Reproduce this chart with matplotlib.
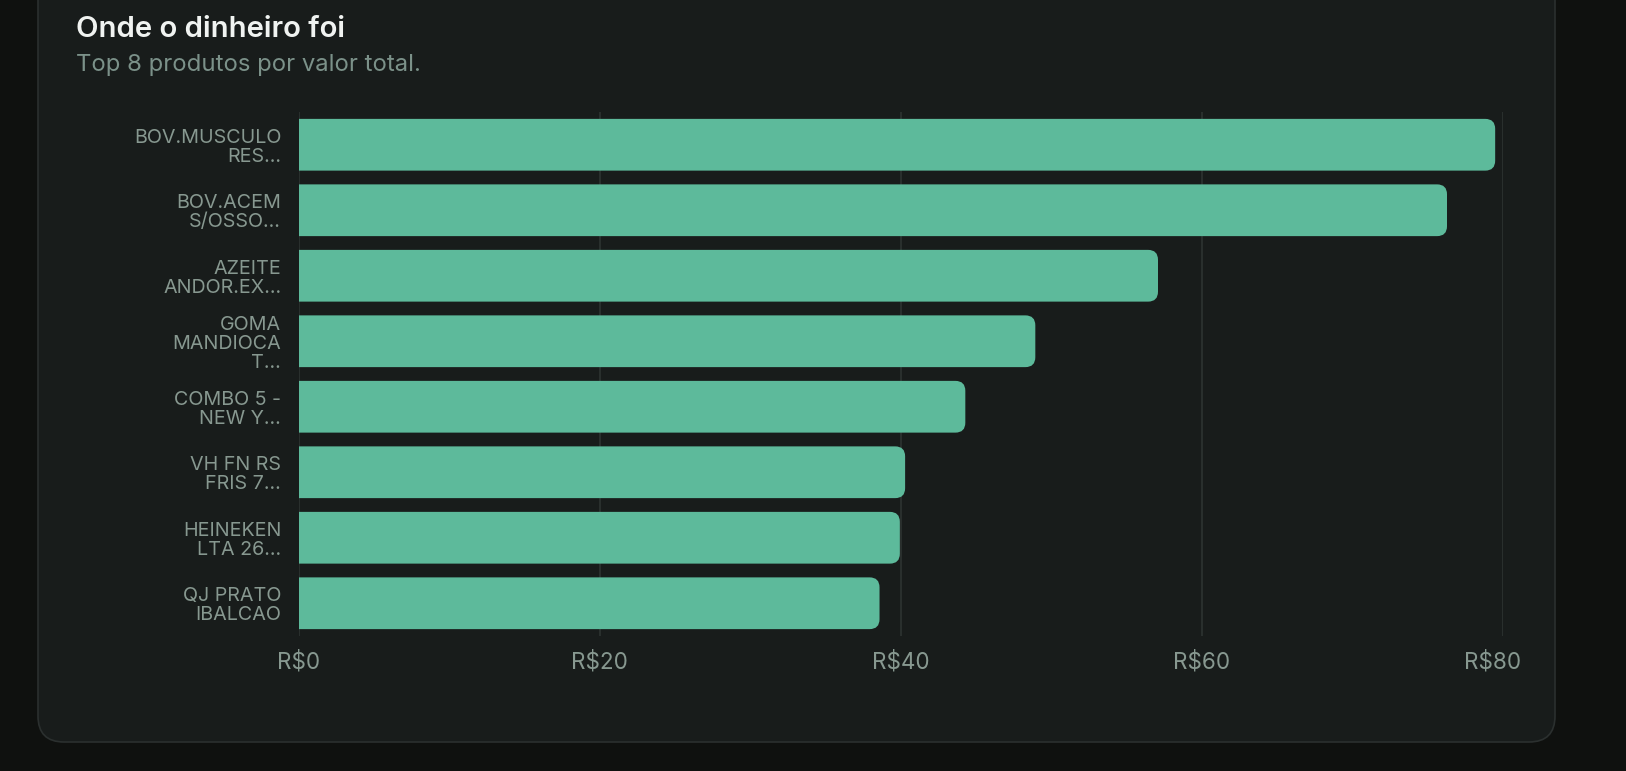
import matplotlib
matplotlib.use("Agg")
from matplotlib import pyplot as plt
from matplotlib.patches import FancyBboxPatch
from matplotlib.ticker import FuncFormatter
from matplotlib.transforms import ScaledTranslation

# data
produtos = [
    "BOV.MUSCULO\nRES…",
    "BOV.ACEM\nS/OSSO…",
    "AZEITE\nANDOR.EX…",
    "GOMA\nMANDIOCA\nT…",
    "COMBO 5 -\nNEW Y…",
    "VH FN RS\nFRIS 7…",
    "HEINEKEN\nLTA 26…",
    "QJ PRATO\nIBALCAO",
]
valores = [79.5, 76.3, 57.1, 48.95, 44.3, 40.3, 39.95, 38.6]
x_ticks = [0, 20, 40, 60, 80]

BG = '#0f110f'
CARD = '#181c1b'
CARD_EDGE = '#2b302f'
BAR = '#5dba9b'
GRID = '#2f3533'
TITLE = '#f0f3f1'
SUB = '#7b9189'
TICK = '#879890'

plt.rcParams['font.family'] = ['Inter', 'DejaVu Sans']

fig = plt.figure(figsize=(16.26, 7.71), dpi=100, facecolor=BG)
W, H = 1626, 771

# card
card = FancyBboxPatch((38 / W, 29 / H), (1555 - 38) / W, 1.2,
                      boxstyle='round,pad=0,rounding_size=0.016',
                      mutation_aspect=W / H,
                      transform=fig.transFigure, facecolor=CARD,
                      edgecolor=CARD_EDGE, linewidth=1.2, zorder=-5)
fig.patches.append(card)

fig.text(76 / W, 1 - 37.3 / H, 'Onde o dinheiro foi', color=TITLE,
         fontsize=21.1, fontweight='semibold', va='baseline', ha='left')
fig.text(76 / W, 1 - 70.5 / H, 'Top 8 produtos por valor total.', color=SUB,
         fontsize=17.2, va='baseline', ha='left')

ax = fig.add_axes([298.5 / W, 135 / H, (1502.7 - 298.5) / W, (636 - 112) / H])
ax.set_facecolor('none')
ax.set_zorder(2)

pos = list(range(len(produtos)))
bars = ax.barh(pos, valores, height=0.79, color=BAR, zorder=3)
ax.set_xlim(0, 80)
ax.set_ylim(len(produtos) - 0.5, -0.5)

# rounded right ends: replace each bar by a rounded patch starting left of 0
r = 0.66
aspect = (1 / 65.5) / (1 / 15.05)
for b in bars:
    x0, y0 = b.get_x(), b.get_y()
    w, h = b.get_width(), b.get_height()
    p = FancyBboxPatch((x0 - 2, y0), w + 2, h,
                       boxstyle=f'round,pad=0,rounding_size={r}',
                       mutation_aspect=aspect, facecolor=BAR,
                       edgecolor='none', zorder=3)
    ax.add_patch(p)
    b.set_visible(False)

ax.set_xticks(x_ticks)
ax.xaxis.set_major_formatter(FuncFormatter(lambda v, _: f'R${v:.0f}'))
ax.set_yticks(pos)
ax.set_yticklabels(produtos, linespacing=1.08, multialignment='right')
ax.tick_params(axis='y', length=0, pad=12.5, labelsize=14.2, labelcolor=TICK)
ax.tick_params(axis='x', length=0, pad=11, labelsize=16.2, labelcolor=TICK)
ax.grid(axis='x', color=GRID, linewidth=1.1, zorder=0)
ax.set_axisbelow(True)
for s in ax.spines.values():
    s.set_visible(False)

# last x label is pulled inside the plot area, as in the reference
last = ax.get_xticklabels()[-1]
last.set_transform(last.get_transform() + ScaledTranslation(-10 / 100, 0, fig.dpi_scale_trans))

fig.savefig('out.png', dpi=100, facecolor=BG)
